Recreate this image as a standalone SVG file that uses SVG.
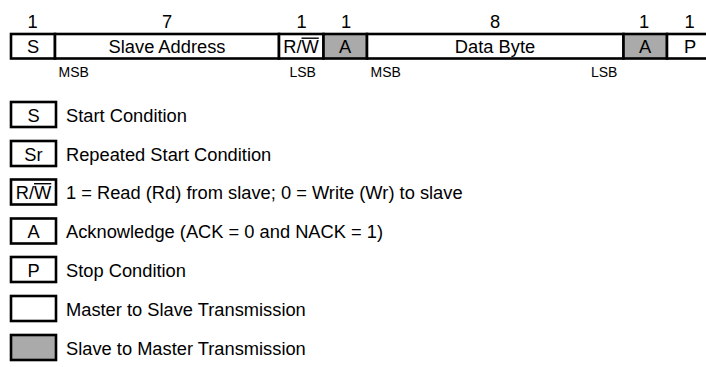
<svg xmlns="http://www.w3.org/2000/svg" width="706" height="367" viewBox="0 0 706 367">
<style>
text{font-family:"Liberation Sans",Arial,sans-serif;fill:#000}
.h{font-size:18.3px;text-anchor:middle}
.c{font-size:18.3px;text-anchor:middle}
.s{font-size:14px}
.l{font-size:18.3px}
.w{fill:#fff;stroke:#000;stroke-width:2.6}
.g{fill:#aaaaaa;stroke:#000;stroke-width:2.6}
.ol{stroke:#000;stroke-width:1.4}
</style>
<rect width="706" height="367" fill="#fff"/>
<g id="frame">
<text class="h" x="32.5" y="28">1</text>
<text class="h" x="167" y="28">7</text>
<text class="h" x="301.5" y="28">1</text>
<text class="h" x="346" y="28">1</text>
<text class="h" x="495" y="28">8</text>
<text class="h" x="644" y="28">1</text>
<text class="h" x="689.5" y="28">1</text>
<rect class="w" x="11" y="34" width="44" height="24.5"/>
<rect class="w" x="55" y="34" width="224" height="24.5"/>
<rect class="w" x="279" y="34" width="44.5" height="24.5"/>
<rect class="g" x="323.5" y="34" width="43.5" height="24.5"/>
<rect class="w" x="367" y="34" width="256.5" height="24.5"/>
<rect class="g" x="623.5" y="34" width="43.5" height="24.5"/>
<rect class="w" x="667" y="34" width="46" height="24.5"/>
<text class="c" x="33" y="52.5">S</text>
<text class="c" x="167" y="52.5">Slave Address</text>
<text class="c" x="301" y="52.5">R/W</text>
<line class="ol" x1="301.5" y1="38.2" x2="318.8" y2="38.2"/>
<text class="c" x="345" y="52.5">A</text>
<text class="c" x="495" y="52.5">Data Byte</text>
<text class="c" x="645" y="52.5">A</text>
<text class="c" x="690" y="52.5">P</text>
<text class="s" x="58.5" y="77">MSB</text>
<text class="s" x="289.5" y="77">LSB</text>
<text class="s" x="370.5" y="77">MSB</text>
<text class="s" x="591" y="77">LSB</text>
</g>
<g id="legend-s"><rect class="w" x="11" y="102" width="45" height="25"/><text class="c" x="33.5" y="121.5">S</text><text class="l" x="66" y="121.5">Start Condition</text></g>
<g id="legend-sr"><rect class="w" x="11" y="141" width="45" height="25"/><text class="c" x="33.5" y="160.5">Sr</text><text class="l" x="66" y="160.5">Repeated Start Condition</text></g>
<g id="legend-rw"><rect class="w" x="11" y="179.5" width="45" height="25"/><text class="c" x="33.5" y="199">R/W</text><line class="ol" x1="34" y1="183.7" x2="51.3" y2="183.7"/><text class="l" x="66" y="199">1 = Read (Rd) from slave; 0 = Write (Wr) to slave</text></g>
<g id="legend-a"><rect class="w" x="11" y="218.5" width="45" height="25"/><text class="c" x="33.5" y="238">A</text><text class="l" x="66" y="238">Acknowledge (ACK = 0 and NACK = 1)</text></g>
<g id="legend-p"><rect class="w" x="11" y="257" width="45" height="25"/><text class="c" x="33.5" y="276.5">P</text><text class="l" x="66" y="276.5">Stop Condition</text></g>
<g id="legend-m2s"><rect class="w" x="11" y="296" width="45" height="25"/><text class="l" x="66" y="315.5">Master to Slave Transmission</text></g>
<g id="legend-s2m"><rect class="g" x="11" y="335" width="45" height="25"/><text class="l" x="66" y="354.5">Slave to Master Transmission</text></g>
<g id="connectors"/>
</svg>
